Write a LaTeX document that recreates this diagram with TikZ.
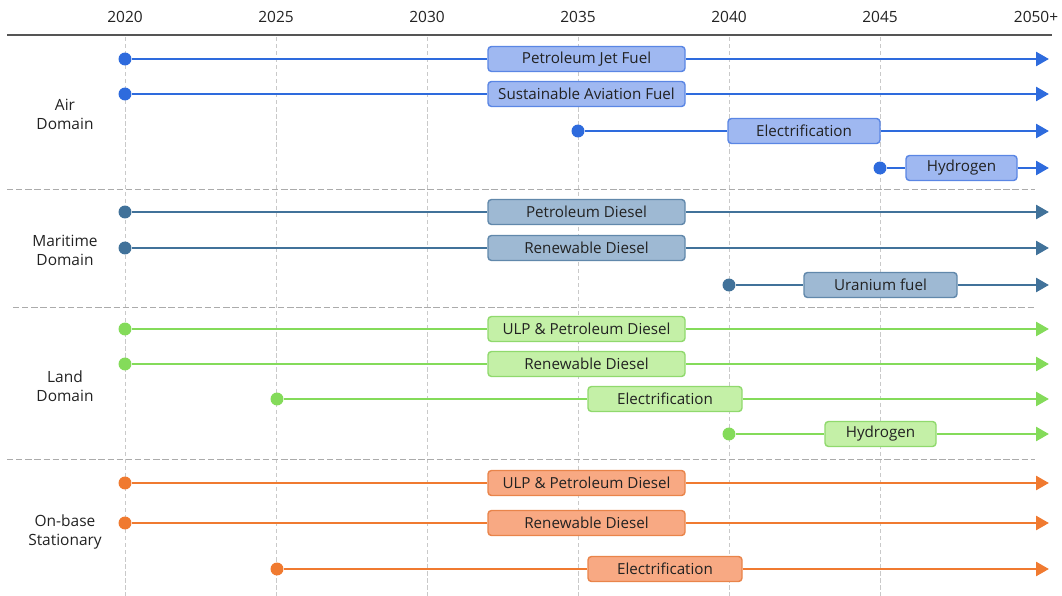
\documentclass[tikz,border=0pt]{standalone}
\usepackage{fontspec}
\setmainfont{Open Sans}
\usetikzlibrary{arrows.meta}
\definecolor{ink}{HTML}{222222}
\definecolor{rule}{HTML}{555555}
\definecolor{grid}{HTML}{C9C9C9}
\definecolor{sep}{HTML}{ABABAB}
\definecolor{airL}{HTML}{2E6BDD}
\definecolor{airF}{HTML}{9FB8F1}
\definecolor{airE}{HTML}{5A86E4}
\definecolor{seaL}{HTML}{41729A}
\definecolor{seaF}{HTML}{9EB9D3}
\definecolor{seaE}{HTML}{6188AB}
\definecolor{landL}{HTML}{84DB5A}
\definecolor{landF}{HTML}{C4F0A7}
\definecolor{landE}{HTML}{90D96D}
\definecolor{statL}{HTML}{F07A30}
\definecolor{statF}{HTML}{F8A983}
\definecolor{statE}{HTML}{E9844A}

\tikzset{
  track/.style={draw=#1L,line width=2.1pt},
  fueldot/.style={circle,fill=#1L,inner sep=0pt,minimum size=9.2pt},
  fuelbox/.style={draw=#1E,fill=#1F,line width=1pt,rounded corners=2.5pt,
    inner sep=0pt,minimum height=17.8pt,text=ink,font=\fontsize{10.8}{12}\selectfont},
  domlabel/.style={align=center,text=ink,font=\fontsize{11}{13.5}\selectfont},
  yearlabel/.style={text=ink,font=\fontsize{11}{13}\selectfont},
}

\begin{document}
\begin{tikzpicture}[x=0.025cm,y=-0.025cm,>={Triangle[length=9.2pt,width=9.8pt]},line cap=butt]
  \useasboundingbox (0,0) rectangle (1062,596);

  % time axis
  \foreach \yr [count=\i from 0] in {2020,2025,2030,2035,2040,2045}{
    \node[yearlabel] (y\yr) at ({125+151*\i},17) {\yr};
    \draw[grid,line width=0.6pt,dash pattern=on 3pt off 2pt] ({125+151*\i},37) -- ({125+151*\i},596);
  }
  \node[yearlabel] (y2050) at (1036,17) {2050+};
  \draw[rule,line width=1.4pt] (7,35) -- (1052,35);

  % domain separators
  \foreach \y/\s in {189/7,307/13,459/7}
    \draw[sep,line width=0.7pt,dash pattern=on 4.5pt off 2pt] (\s,\y) -- (1035,\y);

  \node[domlabel] (air)  at (65,114) {Air\\Domain};
  \node[domlabel] (sea)  at (65,250) {Maritime\\Domain};
  \node[domlabel] (land) at (65,386) {Land\\Domain};
  \node[domlabel] (stat) at (65,532) {On-base\\Stationary};

  % fuel tracks: name/colour/y/start/box left/box right/label
  \foreach \n/\col/\y/\s/\l/\r/\t in {
      a1/air/59/125/488/685/Petroleum Jet Fuel,
      a2/air/94/125/488/685/Sustainable Aviation Fuel,
      a3/air/131/578/728/880/Electrification,
      a4/air/168/880/906/1017/Hydrogen,
      m1/sea/212/125/488/685/Petroleum Diesel,
      m2/sea/248/125/488/685/Renewable Diesel,
      m3/sea/285/729/804/957/Uranium fuel,
      l1/land/329/125/488/685/ULP \& Petroleum Diesel,
      l2/land/364/125/488/685/Renewable Diesel,
      l3/land/399/277/588/742/Electrification,
      l4/land/434/729/825/936/Hydrogen,
      s1/stat/483/125/488/685/ULP \& Petroleum Diesel,
      s2/stat/523/125/488/685/Renewable Diesel,
      s3/stat/569/277/588/742/Electrification}{
    \node[fueldot=\col] (d\n) at (\s,\y) {};
    \node[fuelbox=\col,minimum width={(\r-\l)*0.025cm}] (b\n) at ({(\l+\r)/2},\y) {\t};
    \coordinate (e\n) at (1049,\y);
    \draw[track=\col] (d\n) -- (b\n);
    \draw[track=\col,->] (b\n) -- (e\n);
  }
\end{tikzpicture}
\end{document}
